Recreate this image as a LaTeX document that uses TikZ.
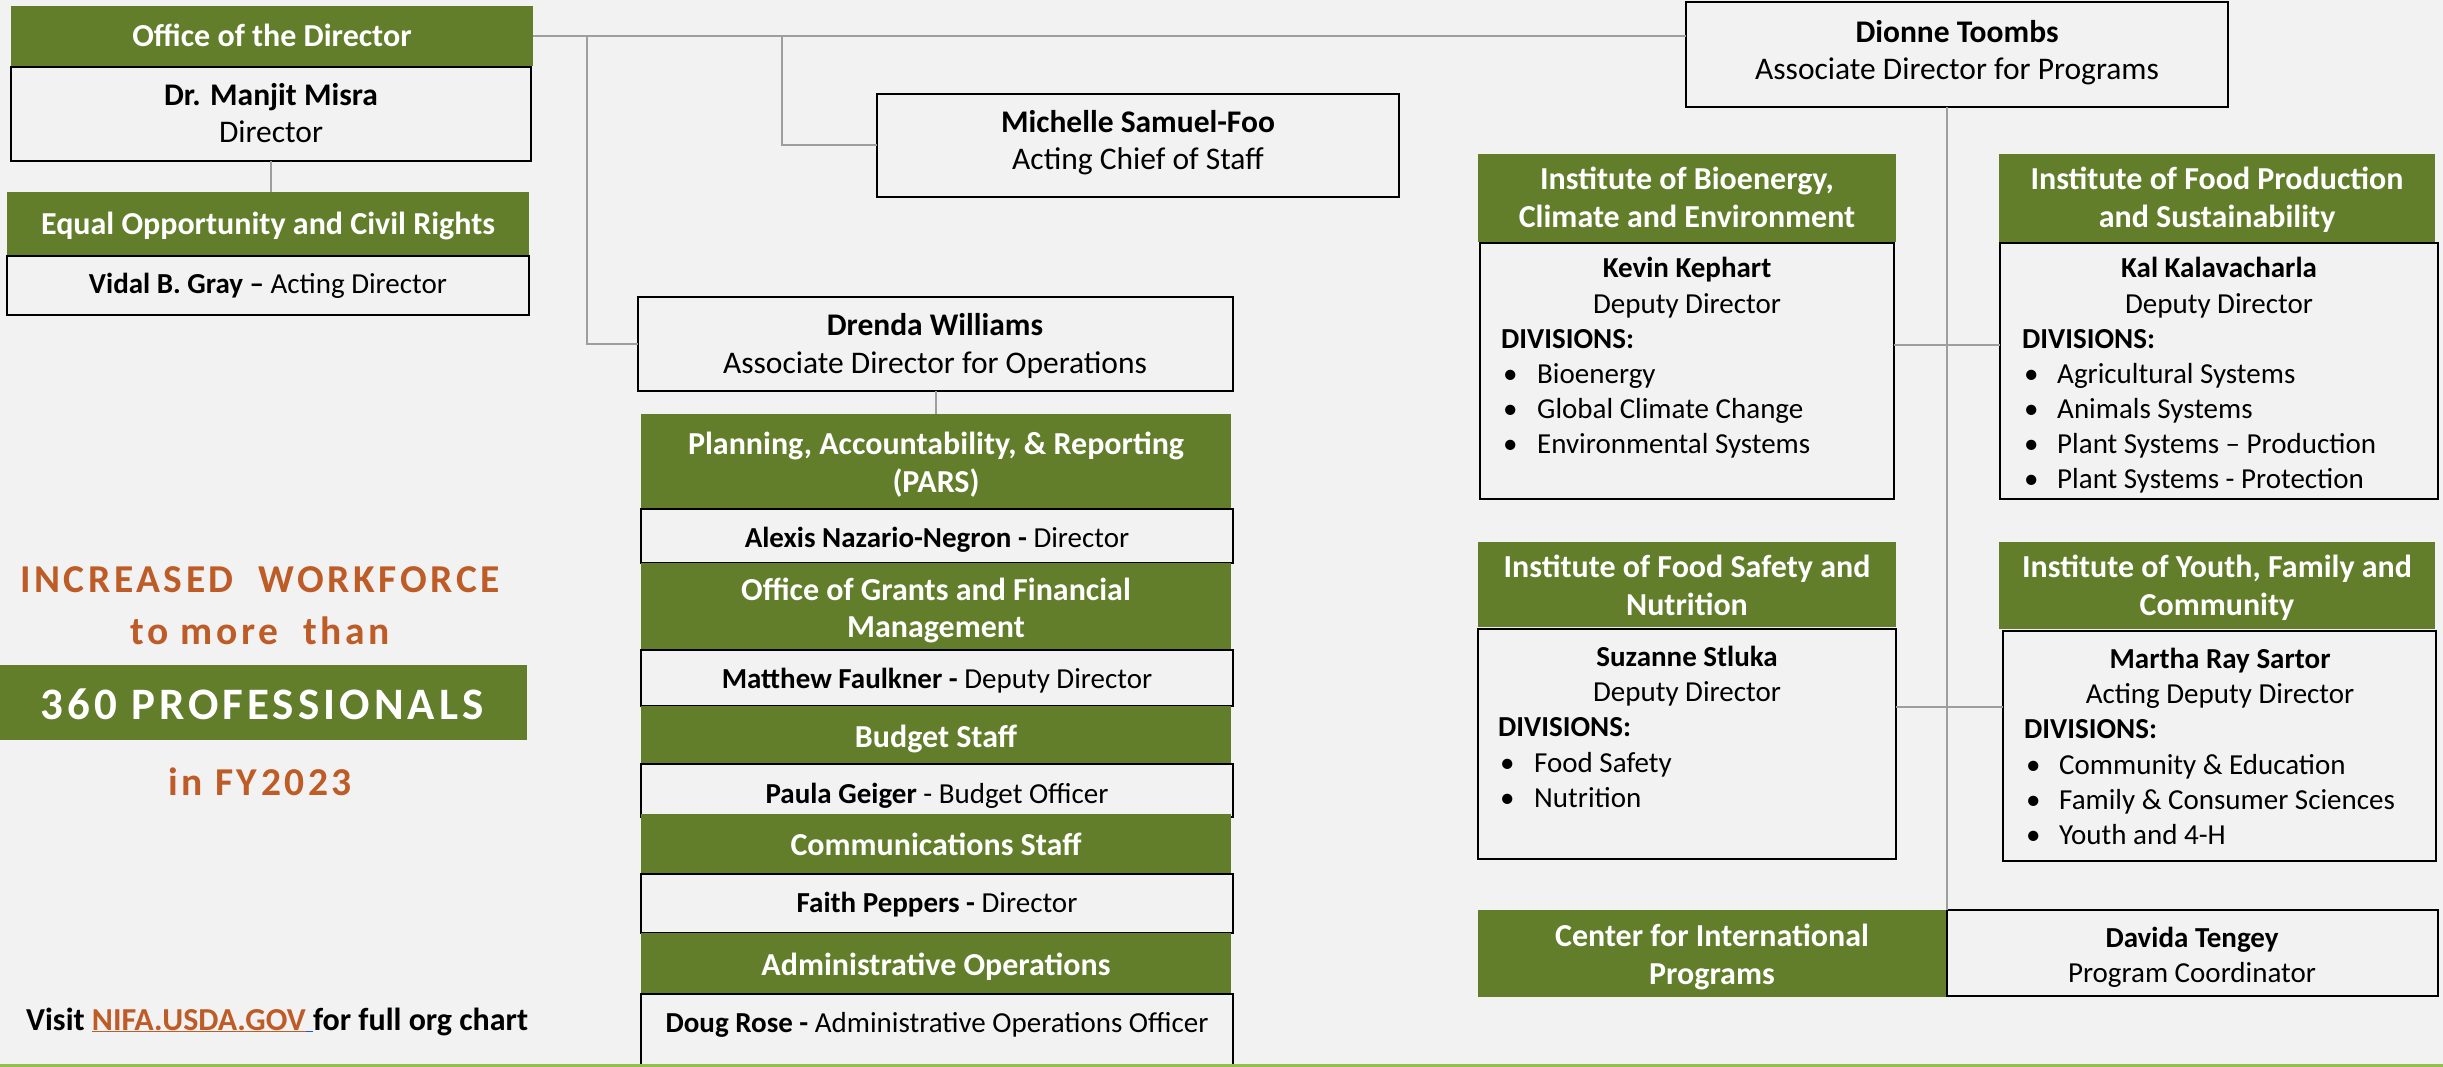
\documentclass[tikz,border=0pt]{standalone}
\usepackage{fontspec}
\setmainfont{Carlito}
\definecolor{bgc}{RGB}{242,242,242}
\definecolor{grn}{RGB}{98,126,43}
\definecolor{org}{RGB}{190,92,40}
\definecolor{lgrn}{RGB}{146,192,80}
\definecolor{lnk}{RGB}{5,99,193}
\tikzset{
  gbox/.style={fill=grn, draw=none, anchor=north west, inner sep=0pt, outer sep=0pt},
  wbox/.style={fill=bgc, draw=black, line width=2.5pt, anchor=north west, inner sep=0pt, outer sep=0pt},
  conn/.style={draw=black!38, line width=2pt},
  hd/.style={font=\fontsize{32}{38}\selectfont\bfseries, text=white, anchor=base, inner sep=0pt},
  bd/.style={font=\fontsize{31.5}{38}\selectfont, text=black, anchor=base, inner sep=0pt},
  sm/.style={font=\fontsize{29}{35}\selectfont, text=black, anchor=base, inner sep=0pt},
  smw/.style={sm, anchor=base west},
  big/.style={font=\fontsize{39.5}{46}\selectfont\bfseries\addfontfeatures{LetterSpace=9}, text=org, anchor=base, inner sep=0pt},
}
\begin{document}
\begin{tikzpicture}[x=1pt,y=-1pt]
\useasboundingbox (0,0) rectangle (2443,1067);
\fill[bgc] (0,0) rectangle (2443,1067);
\clip (0,0) rectangle (2443,1067);

% ---------- Office of the Director ----------
\node[gbox, minimum width=522pt, minimum height=60pt] (od) at (11,6) {};
\node[wbox, minimum width=520pt, minimum height=94pt] (dm) at (11,67) {};
\node[gbox, minimum width=522pt, minimum height=63pt] (eo) at (7,192) {};
\node[wbox, minimum width=522pt, minimum height=59pt] (vg) at (7,256) {};
\node[hd] (tod) at (272,47) {Office of the Director};
\node[bd, font=\fontsize{31.5}{38}\selectfont\bfseries] (tdm1) at (271,106) {Dr. Manjit Misra};
\node[bd] (tdm2) at (271,143) {Director};
\node[hd] (teo) at (268,235) {Equal Opportunity and Civil Rights};
\node[sm] (tvg) at (268,293) {\textbf{Vidal B. Gray –} Acting Director};

% ---------- Chief of staff / Operations ----------
\node[wbox, minimum width=522pt, minimum height=103pt] (ms) at (877,94) {};
\node[bd, font=\fontsize{31.5}{38}\selectfont\bfseries] (tms1) at (1138,133) {Michelle Samuel-Foo};
\node[bd] (tms2) at (1138,170) {Acting Chief of Staff};

\node[wbox, minimum width=595pt, minimum height=94pt] (dw) at (638,297) {};
\node[bd, font=\fontsize{31.5}{38}\selectfont\bfseries] (tdw1) at (935,335) {Drenda Williams};
\node[bd] (tdw2) at (935,373) {Associate Director for Operations};

\node[gbox, minimum width=590pt, minimum height=95pt] (pars) at (641,414) {};
\node[hd] (tpa1) at (936,454) {Planning, Accountability, \& Reporting};
\node[hd] (tpa2) at (936,492) {(PARS)};
\node[wbox, minimum width=592pt, minimum height=54pt] (an) at (641,509) {};
\node[sm] (tan) at (937,547) {\textbf{Alexis Nazario-Negron -} Director};

\node[gbox, minimum width=590pt, minimum height=87pt] (ogfm) at (641,563) {};
\node[hd] (tog1) at (936,600) {Office of Grants and Financial};
\node[hd] (tog2) at (936,637) {Management};
\node[wbox, minimum width=592pt, minimum height=56pt] (mf) at (641,650) {};
\node[sm] (tmf) at (937,688) {\textbf{Matthew Faulkner -} Deputy Director};

\node[gbox, minimum width=590pt, minimum height=58pt] (bs) at (641,706) {};
\node[hd] (tbs) at (936,747) {Budget Staff};
\node[wbox, minimum width=592pt, minimum height=53pt] (pg) at (641,764) {};
\node[sm] (tpg) at (937,803) {\textbf{Paula Geiger} - Budget Officer};

\node[gbox, minimum width=590pt, minimum height=60pt] (cs) at (641,814) {};
\node[hd] (tcs) at (936,855) {Communications Staff};
\node[wbox, minimum width=592pt, minimum height=59pt] (fp) at (641,874) {};
\node[sm] (tfp) at (937,912) {\textbf{Faith Peppers -} Director};

\node[gbox, minimum width=590pt, minimum height=61pt] (ao) at (641,933) {};
\node[hd] (tao) at (936,975) {Administrative Operations};
\node[wbox, minimum width=592pt, minimum height=110pt] (dr) at (641,994) {};
\node[sm] (tdr) at (937,1032) {\textbf{Doug Rose -} Administrative Operations Officer};

% ---------- Programs ----------
\node[wbox, minimum width=542pt, minimum height=105pt] (dt) at (1686,2) {};
\node[bd, font=\fontsize{31.5}{38}\selectfont\bfseries] (tdt1) at (1957,43) {Dionne Toombs};
\node[bd] (tdt2) at (1957,80) {Associate Director for Programs};

\node[gbox, minimum width=418pt, minimum height=88pt] (ibce) at (1478,154) {};
\node[hd] (tib1) at (1687,190) {Institute of Bioenergy,};
\node[hd] (tib2) at (1687,228) {Climate and Environment};
\node[wbox, minimum width=414pt, minimum height=256pt] (kk) at (1480,243) {};
\node[sm, font=\fontsize{29}{35}\selectfont\bfseries] (tkk1) at (1687,278) {Kevin Kephart};
\node[sm] (tkk2) at (1687,313) {Deputy Director};
\node[smw, font=\fontsize{29}{35}\selectfont\bfseries] (tkk3) at (1501,348) {DIVISIONS:};
\node[smw] (bkk1) at (1503,383) {•};
\node[smw] (bkk2) at (1503,418) {•};
\node[smw] (bkk3) at (1503,453) {•};
\node[smw] (lkk1) at (1537,383) {Bioenergy};
\node[smw] (lkk2) at (1537,418) {Global Climate Change};
\node[smw] (lkk3) at (1537,453) {Environmental Systems};

\node[gbox, minimum width=436pt, minimum height=88pt] (ifps) at (1999,154) {};
\node[hd] (tif1) at (2217,190) {Institute of Food Production};
\node[hd] (tif2) at (2217,228) {and Sustainability};
\node[wbox, minimum width=438pt, minimum height=256pt] (kal) at (2000,243) {};
\node[sm, font=\fontsize{29}{35}\selectfont\bfseries] (tka1) at (2219,278) {Kal Kalavacharla};
\node[sm] (tka2) at (2219,313) {Deputy Director};
\node[smw, font=\fontsize{29}{35}\selectfont\bfseries] (tka3) at (2022,348) {DIVISIONS:};
\node[smw] (bka1) at (2024,383) {•};
\node[smw] (bka2) at (2024,418) {•};
\node[smw] (bka3) at (2024,453) {•};
\node[smw] (bka4) at (2024,488) {•};
\node[smw] (lka1) at (2057,383) {Agricultural Systems};
\node[smw] (lka2) at (2057,418) {Animals Systems};
\node[smw] (lka3) at (2057,453) {Plant Systems – Production};
\node[smw] (lka4) at (2057,488) {Plant Systems - Protection};

\node[gbox, minimum width=418pt, minimum height=85pt] (ifsn) at (1478,542) {};
\node[hd] (tfs1) at (1687,577) {Institute of Food Safety and};
\node[hd] (tfs2) at (1687,615) {Nutrition};
\node[wbox, minimum width=418pt, minimum height=230pt] (ss) at (1478,629) {};
\node[sm, font=\fontsize{29}{35}\selectfont\bfseries] (tss1) at (1687,666) {Suzanne Stluka};
\node[sm] (tss2) at (1687,701) {Deputy Director};
\node[smw, font=\fontsize{29}{35}\selectfont\bfseries] (tss3) at (1498,736) {DIVISIONS:};
\node[smw] (bss1) at (1500,772) {•};
\node[smw] (bss2) at (1500,807) {•};
\node[smw] (lss1) at (1534,772) {Food Safety};
\node[smw] (lss2) at (1534,807) {Nutrition};

\node[gbox, minimum width=436pt, minimum height=87pt] (iyfc) at (1999,542) {};
\node[hd] (tiy1) at (2217,577) {Institute of Youth, Family and};
\node[hd] (tiy2) at (2217,615) {Community};
\node[wbox, minimum width=433pt, minimum height=230pt] (mrs) at (2003,631) {};
\node[sm, font=\fontsize{29}{35}\selectfont\bfseries] (tmr1) at (2220,668) {Martha Ray Sartor};
\node[sm] (tmr2) at (2220,703) {Acting Deputy Director};
\node[smw, font=\fontsize{29}{35}\selectfont\bfseries] (tmr3) at (2024,738) {DIVISIONS:};
\node[smw] (bmr1) at (2026,774) {•};
\node[smw] (bmr2) at (2026,809) {•};
\node[smw] (bmr3) at (2026,844) {•};
\node[smw] (lmr1) at (2059,774) {Community \& Education};
\node[smw] (lmr2) at (2059,809) {Family \& Consumer Sciences};
\node[smw] (lmr3) at (2059,844) {Youth and 4-H};

\node[gbox, minimum width=469pt, minimum height=87pt] (cip) at (1478,910) {};
\node[hd] (tci1) at (1712,946) {Center for International};
\node[hd] (tci2) at (1712,984) {Programs};
\node[wbox, minimum width=491pt, minimum height=86pt] (dav) at (1947,910) {};
\node[sm, font=\fontsize{29}{35}\selectfont\bfseries] (tdv1) at (2192,947) {Davida Tengey};
\node[sm] (tdv2) at (2192,982) {Program Coordinator};

% ---------- Workforce note ----------
\node[big] (w1) at (260,592) {INCREASED\ \ WORKFORCE};
\node[big] (w2) at (260,644) {to more\ \ than};
\node[gbox, minimum width=527pt, minimum height=75pt] (band) at (0,665) {};
\node[font=\fontsize{45}{52}\selectfont\bfseries\addfontfeatures{LetterSpace=9}, text=white, anchor=base, inner sep=0pt] (w3) at (262,719) {360 PROFESSIONALS};
\node[big] (w4) at (260,795) {in FY2023};
\node[font=\fontsize{32}{38}\selectfont\bfseries, anchor=base west, inner sep=0pt] (visit) at (26,1030) {Visit \textcolor{org}{\underline{NIFA.USDA.GOV}}\textcolor{lnk}{\underline{\ }}for full org chart};

% ---------- Connectors ----------
\coordinate (j1) at (587,37);
\coordinate (j2) at (782,37);
\coordinate (h1) at (0,345);
\coordinate (h2) at (0,707);
\draw[conn] (od.east) -- (od.east -| dt.west);
\draw[conn] (j1) |- (dw.west);
\draw[conn] (j2) |- (ms.west);
\draw[conn] (dm.south) -- (dm.south |- eo.north);
\draw[conn] (dw.south) -- (dw.south |- pars.north);
\draw[conn] (dt.south -| dav.west) -- (dav.north west);
\draw[conn] (kk.east |- h1) -- (kal.west |- h1);
\draw[conn] (ss.east |- h2) -- (mrs.west |- h2);

\draw[lgrn, line width=3pt] (0,1065.5) -- (2443,1065.5);
\end{tikzpicture}
\end{document}
